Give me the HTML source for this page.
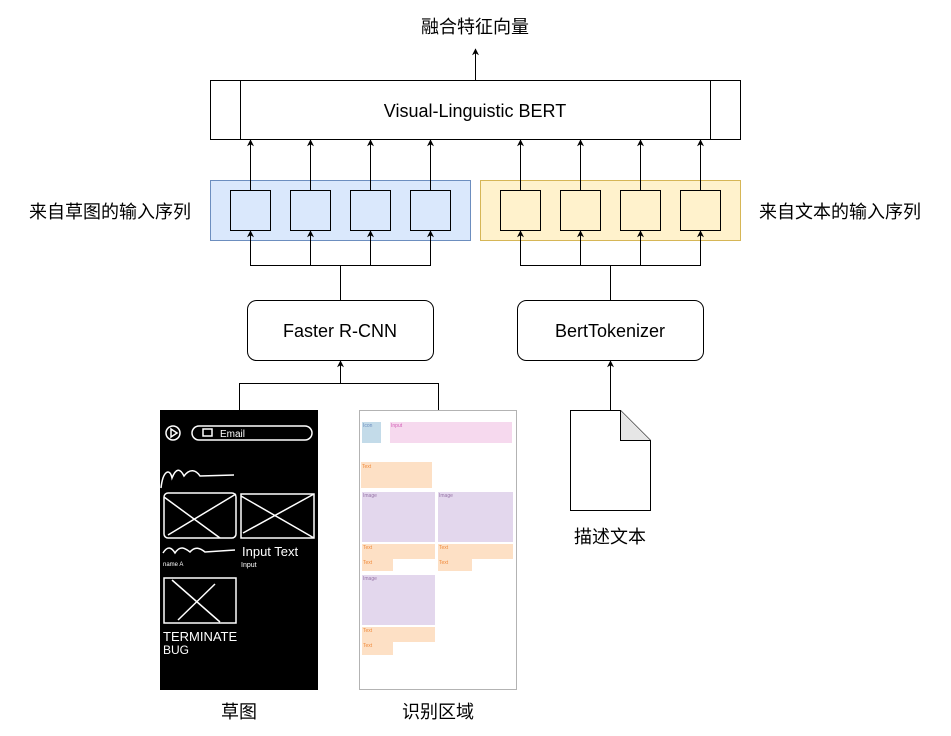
<!DOCTYPE html>
<html><head><meta charset="utf-8"><style>
html,body{margin:0;padding:0;background:#fff;}
svg{display:block;}
text{font-family:"Liberation Sans","Noto Sans CJK SC",sans-serif;}
</style></head><body>
<svg width="951" height="736" viewBox="0 0 951 736" xmlns="http://www.w3.org/2000/svg">
<defs>
<marker id="a" viewBox="0 0 10 10" refX="9" refY="5" markerWidth="7" markerHeight="7" orient="auto"><path d="M0,0 L10,5 L0,10 L3,5 z" fill="#000"/></marker>
</defs>
<g stroke="#000" stroke-width="1" fill="none">
<!-- top -->
<text x="475" y="33" font-size="18" text-anchor="middle" fill="#000" stroke="none">融合特征向量</text>
<line x1="475.5" y1="80" x2="475.5" y2="49" marker-end="url(#a)"/>
<rect x="210.5" y="80.5" width="530" height="59" fill="#fff"/>
<line x1="240.5" y1="80" x2="240.5" y2="139"/>
<line x1="710.5" y1="80" x2="710.5" y2="139"/>
<text x="475" y="117" font-size="18" text-anchor="middle" fill="#000" stroke="none">Visual-Linguistic BERT</text>
<!-- groups -->
<rect x="210.5" y="180.5" width="260" height="60" fill="#dae8fc" stroke="#6c8ebf"/>
<rect x="480.5" y="180.5" width="260" height="60" fill="#fff2cc" stroke="#d6b656"/>
<g fill="#dae8fc">
<rect x="230.5" y="190.5" width="40" height="40"/><rect x="290.5" y="190.5" width="40" height="40"/><rect x="350.5" y="190.5" width="40" height="40"/><rect x="410.5" y="190.5" width="40" height="40"/>
</g>
<g fill="#fff2cc">
<rect x="500.5" y="190.5" width="40" height="40"/><rect x="560.5" y="190.5" width="40" height="40"/><rect x="620.5" y="190.5" width="40" height="40"/><rect x="680.5" y="190.5" width="40" height="40"/>
</g>
<g marker-end="url(#a)">
<line x1="250.5" y1="190" x2="250.5" y2="140"/><line x1="310.5" y1="190" x2="310.5" y2="140"/><line x1="370.5" y1="190" x2="370.5" y2="140"/><line x1="430.5" y1="190" x2="430.5" y2="140"/>
<line x1="520.5" y1="190" x2="520.5" y2="140"/><line x1="580.5" y1="190" x2="580.5" y2="140"/><line x1="640.5" y1="190" x2="640.5" y2="140"/><line x1="700.5" y1="190" x2="700.5" y2="140"/>
<line x1="250.5" y1="265" x2="250.5" y2="231"/><line x1="310.5" y1="265" x2="310.5" y2="231"/><line x1="370.5" y1="265" x2="370.5" y2="231"/><line x1="430.5" y1="265" x2="430.5" y2="231"/>
<line x1="520.5" y1="265" x2="520.5" y2="231"/><line x1="580.5" y1="265" x2="580.5" y2="231"/><line x1="640.5" y1="265" x2="640.5" y2="231"/><line x1="700.5" y1="265" x2="700.5" y2="231"/>
</g>
<line x1="250" y1="265.5" x2="431" y2="265.5"/><line x1="340.5" y1="265" x2="340.5" y2="300"/>
<line x1="520" y1="265.5" x2="701" y2="265.5"/><line x1="610.5" y1="265" x2="610.5" y2="300"/>
<text x="110" y="218" font-size="18" text-anchor="middle" fill="#000" stroke="none">来自草图的输入序列</text>
<text x="840" y="218" font-size="18" text-anchor="middle" fill="#000" stroke="none">来自文本的输入序列</text>
<!-- processors -->
<rect x="247.5" y="300.5" width="186" height="60" rx="9" fill="#fff"/>
<rect x="517.5" y="300.5" width="186" height="60" rx="9" fill="#fff"/>
<text x="340" y="337" font-size="18" text-anchor="middle" fill="#000" stroke="none">Faster R-CNN</text>
<text x="610" y="337" font-size="18" text-anchor="middle" fill="#000" stroke="none">BertTokenizer</text>
<line x1="340.5" y1="383" x2="340.5" y2="361" marker-end="url(#a)"/>
<line x1="239" y1="383.5" x2="439" y2="383.5"/>
<line x1="239.5" y1="383" x2="239.5" y2="410"/><line x1="438.5" y1="383" x2="438.5" y2="410"/>
<line x1="610.5" y1="410" x2="610.5" y2="361" marker-end="url(#a)"/>
<!-- document -->
<path d="M570.5,410.5 H620.5 L650.5,440.5 V510.5 H570.5 Z" fill="#fff"/>
<path d="M620.5,410.5 V440.5 H650.5" fill="#e6e6e6"/>
<text x="610" y="543" font-size="18" text-anchor="middle" fill="#000" stroke="none">描述文本</text>
<!-- sketch -->
<rect x="160" y="410" width="158" height="280" fill="#000" stroke="none"/>
<g stroke="#fff" stroke-width="1.5">
<circle cx="173" cy="433" r="7"/><path d="M171,429 L177,433 L171,437 Z"/>
<rect x="192" y="426" width="120" height="14" rx="7"/>
<rect x="203" y="429" width="9" height="7"/>
<text x="220" y="437" font-size="10" fill="#fff" stroke="none">Email</text>
<path d="M161,488 C163,470 170,468 172,478 C176,468 180,468 184,476 C190,468 196,470 200,476 L234,475"/>
<rect x="164" y="493" width="72" height="45" rx="4"/><path d="M164,497 L220,538 M236,494 L168,535"/>
<rect x="241" y="494" width="73" height="44"/><path d="M241,496 L314,538 M314,494 L243,533"/>
<path d="M163,553 C168,545 172,548 175,553 C180,545 185,548 190,552 C195,546 200,548 205,552 L235,550"/>
<text x="242" y="556" font-size="13" fill="#fff" stroke="none">Input Text</text>
<text x="163" y="566" font-size="6" fill="#fff" stroke="none">name A</text>
<text x="241" y="567" font-size="7" fill="#fff" stroke="none">Input</text>
<rect x="164" y="578" width="72" height="45"/><path d="M172,580 L220,622 M215,584 L178,620"/>
<text x="163" y="641" font-size="13" fill="#fff" stroke="none">TERMINATE</text>
<text x="163" y="654" font-size="12" fill="#fff" stroke="none">BUG</text>
</g>
<!-- recognized areas -->
<rect x="359.5" y="410.5" width="157" height="279" fill="#fff" stroke="#b3b3b3"/>
<g stroke="none" font-size="5">
<rect x="362" y="422" width="19" height="21" fill="#c3dbe9"/><text x="363" y="427" fill="#6c8ebf">Icon</text>
<rect x="390" y="422" width="122" height="21" fill="#f6d9ee"/><text x="391" y="427" fill="#d35fb7">Input</text>
<rect x="361" y="462" width="71" height="26" fill="#fde0c5"/><text x="362" y="468" fill="#f08a3c">Text</text>
<rect x="362" y="492" width="73" height="50" fill="#e3d7ed"/><text x="363" y="497" fill="#9673a6">Image</text>
<rect x="438" y="492" width="75" height="50" fill="#e3d7ed"/><text x="439" y="497" fill="#9673a6">Image</text>
<rect x="362" y="544" width="73" height="15" fill="#fde0c5"/><text x="363" y="549" fill="#f08a3c">Text</text>
<rect x="438" y="544" width="75" height="15" fill="#fde0c5"/><text x="439" y="549" fill="#f08a3c">Text</text>
<rect x="362" y="559" width="31" height="12" fill="#fde0c5"/><text x="363" y="564" fill="#f08a3c">Text</text>
<rect x="438" y="559" width="34" height="12" fill="#fde0c5"/><text x="439" y="564" fill="#f08a3c">Text</text>
<rect x="362" y="575" width="73" height="50" fill="#e3d7ed"/><text x="363" y="580" fill="#9673a6">Image</text>
<rect x="362" y="627" width="73" height="15" fill="#fde0c5"/><text x="363" y="632" fill="#f08a3c">Text</text>
<rect x="362" y="642" width="31" height="13" fill="#fde0c5"/><text x="363" y="647" fill="#f08a3c">Text</text>
</g>
<text x="239" y="718" font-size="18" text-anchor="middle" fill="#000" stroke="none">草图</text>
<text x="438" y="718" font-size="18" text-anchor="middle" fill="#000" stroke="none">识别区域</text>
</g>
</svg>
</body></html>
